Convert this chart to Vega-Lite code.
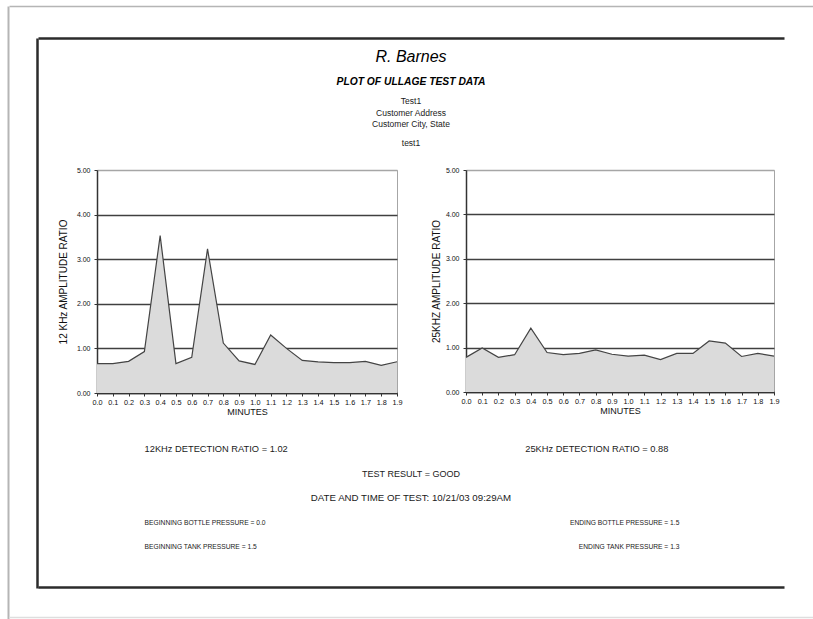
{
  "$schema": "https://vega.github.io/schema/vega-lite/v6.json",
  "padding": {"left": 8, "top": 6, "right": 0, "bottom": 0},
  "background": "white",
  "config": {
    "font": "Liberation Sans",
    "view": {"stroke": null},
    "axis": {"labelFont": "Liberation Sans", "titleFont": "Liberation Sans", "labelColor": "#111111", "titleColor": "#111111"},
    "text": {"font": "Liberation Sans", "color": "#1a1a1a"}
  },
  "datasets": {
    "k12": [
      {"minutes": 0.0, "ratio": 0.66}, {"minutes": 0.1, "ratio": 0.66}, {"minutes": 0.2, "ratio": 0.71},
      {"minutes": 0.3, "ratio": 0.93}, {"minutes": 0.4, "ratio": 3.53}, {"minutes": 0.5, "ratio": 0.66},
      {"minutes": 0.6, "ratio": 0.8}, {"minutes": 0.7, "ratio": 3.23}, {"minutes": 0.8, "ratio": 1.12},
      {"minutes": 0.9, "ratio": 0.72}, {"minutes": 1.0, "ratio": 0.64}, {"minutes": 1.1, "ratio": 1.3},
      {"minutes": 1.2, "ratio": 1.0}, {"minutes": 1.3, "ratio": 0.73}, {"minutes": 1.4, "ratio": 0.7},
      {"minutes": 1.5, "ratio": 0.68}, {"minutes": 1.6, "ratio": 0.68}, {"minutes": 1.7, "ratio": 0.71},
      {"minutes": 1.8, "ratio": 0.62}, {"minutes": 1.9, "ratio": 0.7}
    ],
    "k25": [
      {"minutes": 0.0, "ratio": 0.78}, {"minutes": 0.1, "ratio": 0.99}, {"minutes": 0.2, "ratio": 0.78},
      {"minutes": 0.3, "ratio": 0.84}, {"minutes": 0.4, "ratio": 1.44}, {"minutes": 0.5, "ratio": 0.89},
      {"minutes": 0.6, "ratio": 0.84}, {"minutes": 0.7, "ratio": 0.87}, {"minutes": 0.8, "ratio": 0.95},
      {"minutes": 0.9, "ratio": 0.85}, {"minutes": 1.0, "ratio": 0.81}, {"minutes": 1.1, "ratio": 0.83},
      {"minutes": 1.2, "ratio": 0.73}, {"minutes": 1.3, "ratio": 0.87}, {"minutes": 1.4, "ratio": 0.87},
      {"minutes": 1.5, "ratio": 1.15}, {"minutes": 1.6, "ratio": 1.1}, {"minutes": 1.7, "ratio": 0.8},
      {"minutes": 1.8, "ratio": 0.87}, {"minutes": 1.9, "ratio": 0.81}
    ],
    "header": [
      {"panel": "report", "block": "name", "text": "R. Barnes"},
      {"panel": "report", "block": "heading", "text": "PLOT OF ULLAGE TEST DATA"},
      {"panel": "report", "block": "customer", "text": "Test1\nCustomer Address\nCustomer City, State"},
      {"panel": "report", "block": "test", "text": "test1"}
    ],
    "footer": [
      {"side": "left", "line": 1, "kind": "ratio", "label": "12KHz DETECTION RATIO = 1.02"},
      {"side": "right", "line": 1, "kind": "ratio", "label": "25KHz DETECTION RATIO = 0.88"},
      {"side": "center", "line": 2, "kind": "result", "label": "TEST RESULT = GOOD"},
      {"side": "center", "line": 3, "kind": "timestamp", "label": "DATE AND TIME OF TEST: 10/21/03 09:29AM"},
      {"side": "left", "line": 4, "kind": "pressure", "label": "BEGINNING BOTTLE PRESSURE = 0.0"},
      {"side": "right", "line": 4, "kind": "pressure", "label": "ENDING BOTTLE PRESSURE = 1.5"},
      {"side": "left", "line": 5, "kind": "pressure", "label": "BEGINNING TANK PRESSURE = 1.5"},
      {"side": "right", "line": 5, "kind": "pressure", "label": "ENDING TANK PRESSURE = 1.3"}
    ]
  },
  "spacing": 0,
  "hconcat": [
    {
      "width": 1, "height": 613,
      "data": {"values": [{"v": 0.5}]},
      "mark": {"type": "point", "opacity": 0, "size": 0},
      "encoding": {"y": {"field": "v", "type": "quantitative", "scale": {"domain": [0, 1]},
        "axis": {"orient": "left", "domain": true, "domainColor": "#b5b5b5", "domainWidth": 2, "labels": false, "ticks": false, "grid": false, "title": null}}}
    },
    {
      "spacing": 0,
      "vconcat": [
        {
          "width": 804, "height": 32,
          "data": {"values": [{"v": 0.5}]},
          "mark": {"type": "point", "opacity": 0, "size": 0},
          "encoding": {"x": {"field": "v", "type": "quantitative", "scale": {"domain": [0, 1]},
            "axis": {"orient": "top", "domain": true, "domainColor": "#b5b5b5", "domainWidth": 1.5, "labels": false, "ticks": false, "grid": false, "title": null}}}
        },
        {
          "spacing": 0,
          "hconcat": [
            {"width": 28, "height": 1, "data": {"values": [{}]}, "mark": {"type": "point", "opacity": 0, "size": 0}, "encoding": {}},
            {
              "width": 1, "height": 550,
              "data": {"values": [{"v": 0.5}]},
              "mark": {"type": "point", "opacity": 0, "size": 0},
              "encoding": {"y": {"field": "v", "type": "quantitative", "scale": {"domain": [0, 1]},
                "axis": {"orient": "left", "domain": true, "domainColor": "#2b2b2b", "domainWidth": 2.5, "labels": false, "ticks": false, "grid": false, "title": null}}}
            },
            {
              "spacing": 0,
              "vconcat": [
                {
                  "width": 746, "height": 127,
                  "data": {"name": "header"},
                  "encoding": {
                    "x": {"field": "panel", "type": "nominal", "scale": {"type": "point"},
                      "axis": {"orient": "top", "domain": true, "domainColor": "#2b2b2b", "domainWidth": 2.5, "labels": false, "ticks": false, "grid": false, "title": null}},
                    "y": {"field": "block", "type": "nominal", "scale": {"type": "point", "domain": ["name", "heading", "customer", "test"], "padding": 0.72, "align": 0.46}, "axis": null},
                    "text": {"field": "text"}
                  },
                  "layer": [
                    {"transform": [{"filter": "datum.block == 'name'"}], "mark": {"type": "text", "fontSize": 16, "fontStyle": "italic", "color": "#000000"}},
                    {"transform": [{"filter": "datum.block == 'heading'"}], "mark": {"type": "text", "fontSize": 10.3, "fontStyle": "italic", "fontWeight": "bold", "color": "#000000", "dy": -4}},
                    {"transform": [{"filter": "datum.block == 'customer'"}], "mark": {"type": "text", "fontSize": 8.5, "lineBreak": "\n", "lineHeight": 11.5, "dy": -13}},
                    {"transform": [{"filter": "datum.block == 'test'"}], "mark": {"type": "text", "fontSize": 8.5}}
                  ]
                },
                {
                  "spacing": 0,
                  "hconcat": [
                    {"width": 19, "height": 1, "data": {"values": [{}]}, "mark": {"type": "point", "opacity": 0, "size": 0}, "encoding": {}},
                    {
                      "width": 300, "height": 223,
                      "view": {"stroke": "#a6a6a6", "strokeWidth": 1},
                      "data": {"name": "k12"},
                      "mark": {"type": "area", "color": "#dbdbdb", "opacity": 1, "line": {"color": "#444444", "strokeWidth": 1.2}},
                      "encoding": {
                        "x": {"field": "minutes", "type": "quantitative", "scale": {"domain": [0, 1.9], "nice": false, "zero": false},
                          "axis": {"values": [0, 0.1, 0.2, 0.3, 0.4, 0.5, 0.6, 0.7, 0.8, 0.9, 1.0, 1.1, 1.2, 1.3, 1.4, 1.5, 1.6, 1.7, 1.8, 1.9], "format": ".1f", "title": "MINUTES", "grid": false, "labelFontSize": 7.3, "labelPadding": 2, "tickSize": 3, "titleFontSize": 9, "titleFontWeight": "normal", "titlePadding": 2, "labelFlush": false, "labelOverlap": false, "domainColor": "#333333", "tickColor": "#333333", "domainWidth": 1.5}},
                        "y": {"field": "ratio", "type": "quantitative", "scale": {"domain": [0, 5], "nice": false},
                          "axis": {"values": [0, 1, 2, 3, 4, 5], "format": ".2f", "title": "12 KHz AMPLITUDE RATIO", "grid": true, "gridColor": {"condition": {"test": "datum.value >= 5", "value": "#a6a6a6"}, "value": "#404040"}, "gridWidth": 1.6, "labelFontSize": 7, "labelPadding": 4, "tickSize": 3, "titleFontSize": 10, "titleFontWeight": "normal", "titlePadding": 8, "domainColor": "#333333", "tickColor": "#333333", "domainWidth": 1.5}}
                      }
                    },
                    {"width": 27, "height": 1, "data": {"values": [{}]}, "mark": {"type": "point", "opacity": 0, "size": 0}, "encoding": {}},
                    {
                      "width": 308, "height": 222,
                      "view": {"stroke": "#a6a6a6", "strokeWidth": 1},
                      "data": {"name": "k25"},
                      "mark": {"type": "area", "color": "#dbdbdb", "opacity": 1, "line": {"color": "#444444", "strokeWidth": 1.2}},
                      "encoding": {
                        "x": {"field": "minutes", "type": "quantitative", "scale": {"domain": [0, 1.9], "nice": false, "zero": false},
                          "axis": {"values": [0, 0.1, 0.2, 0.3, 0.4, 0.5, 0.6, 0.7, 0.8, 0.9, 1.0, 1.1, 1.2, 1.3, 1.4, 1.5, 1.6, 1.7, 1.8, 1.9], "format": ".1f", "title": "MINUTES", "grid": false, "labelFontSize": 7.3, "labelPadding": 2, "tickSize": 3, "titleFontSize": 9, "titleFontWeight": "normal", "titlePadding": 2, "labelFlush": false, "labelOverlap": false, "domainColor": "#333333", "tickColor": "#333333", "domainWidth": 1.5}},
                        "y": {"field": "ratio", "type": "quantitative", "scale": {"domain": [0, 5], "nice": false},
                          "axis": {"values": [0, 1, 2, 3, 4, 5], "format": ".2f", "title": "25KHZ AMPLITUDE RATIO", "grid": true, "gridColor": {"condition": {"test": "datum.value >= 5", "value": "#a6a6a6"}, "value": "#404040"}, "gridWidth": 1.6, "labelFontSize": 7, "labelPadding": 4, "tickSize": 3, "titleFontSize": 10, "titleFontWeight": "normal", "titlePadding": 4, "domainColor": "#333333", "tickColor": "#333333", "domainWidth": 1.5}}
                      }
                    }
                  ]
                },
                {
                  "width": 746, "height": 170,
                  "data": {"name": "footer"},
                  "encoding": {
                    "x": {"field": "side", "type": "nominal", "scale": {"type": "point", "domain": ["left", "center", "right"], "padding": 0.4, "align": 0.5},
                      "axis": {"orient": "bottom", "domain": true, "domainColor": "#2b2b2b", "domainWidth": 2.5, "labels": false, "ticks": false, "grid": false, "title": null}},
                    "y": {"field": "line", "type": "ordinal", "scale": {"type": "point", "domain": [0, 1, 2, 3, 4, 5, 6], "padding": 0.47, "align": 0.33}, "axis": null},
                    "text": {"field": "label"}
                  },
                  "layer": [
                    {"transform": [{"filter": "datum.side == 'left' && datum.kind == 'ratio'"}], "mark": {"type": "text", "align": "left", "fontSize": 9.3}},
                    {"transform": [{"filter": "datum.side == 'left' && datum.kind == 'pressure'"}], "mark": {"type": "text", "align": "left", "fontSize": 6.7}},
                    {"transform": [{"filter": "datum.side == 'right' && datum.kind == 'ratio'"}], "mark": {"type": "text", "align": "right", "fontSize": 9.3, "dx": -9}},
                    {"transform": [{"filter": "datum.side == 'right' && datum.kind == 'pressure'"}], "mark": {"type": "text", "align": "right", "fontSize": 6.7, "dx": 2}},
                    {"transform": [{"filter": "datum.kind == 'result'"}], "mark": {"type": "text", "align": "center", "fontSize": 9}},
                    {"transform": [{"filter": "datum.kind == 'timestamp'"}], "mark": {"type": "text", "align": "center", "fontSize": 9.7}}
                  ]
                }
              ]
            }
          ]
        },
        {
          "width": 804, "height": 29,
          "data": {"values": [{"v": 0.5}]},
          "mark": {"type": "point", "opacity": 0, "size": 0},
          "encoding": {"x": {"field": "v", "type": "quantitative", "scale": {"domain": [0, 1]},
            "axis": {"orient": "bottom", "domain": true, "domainColor": "#dedede", "domainWidth": 1.5, "labels": false, "ticks": false, "grid": false, "title": null}}}
        }
      ]
    }
  ]
}
